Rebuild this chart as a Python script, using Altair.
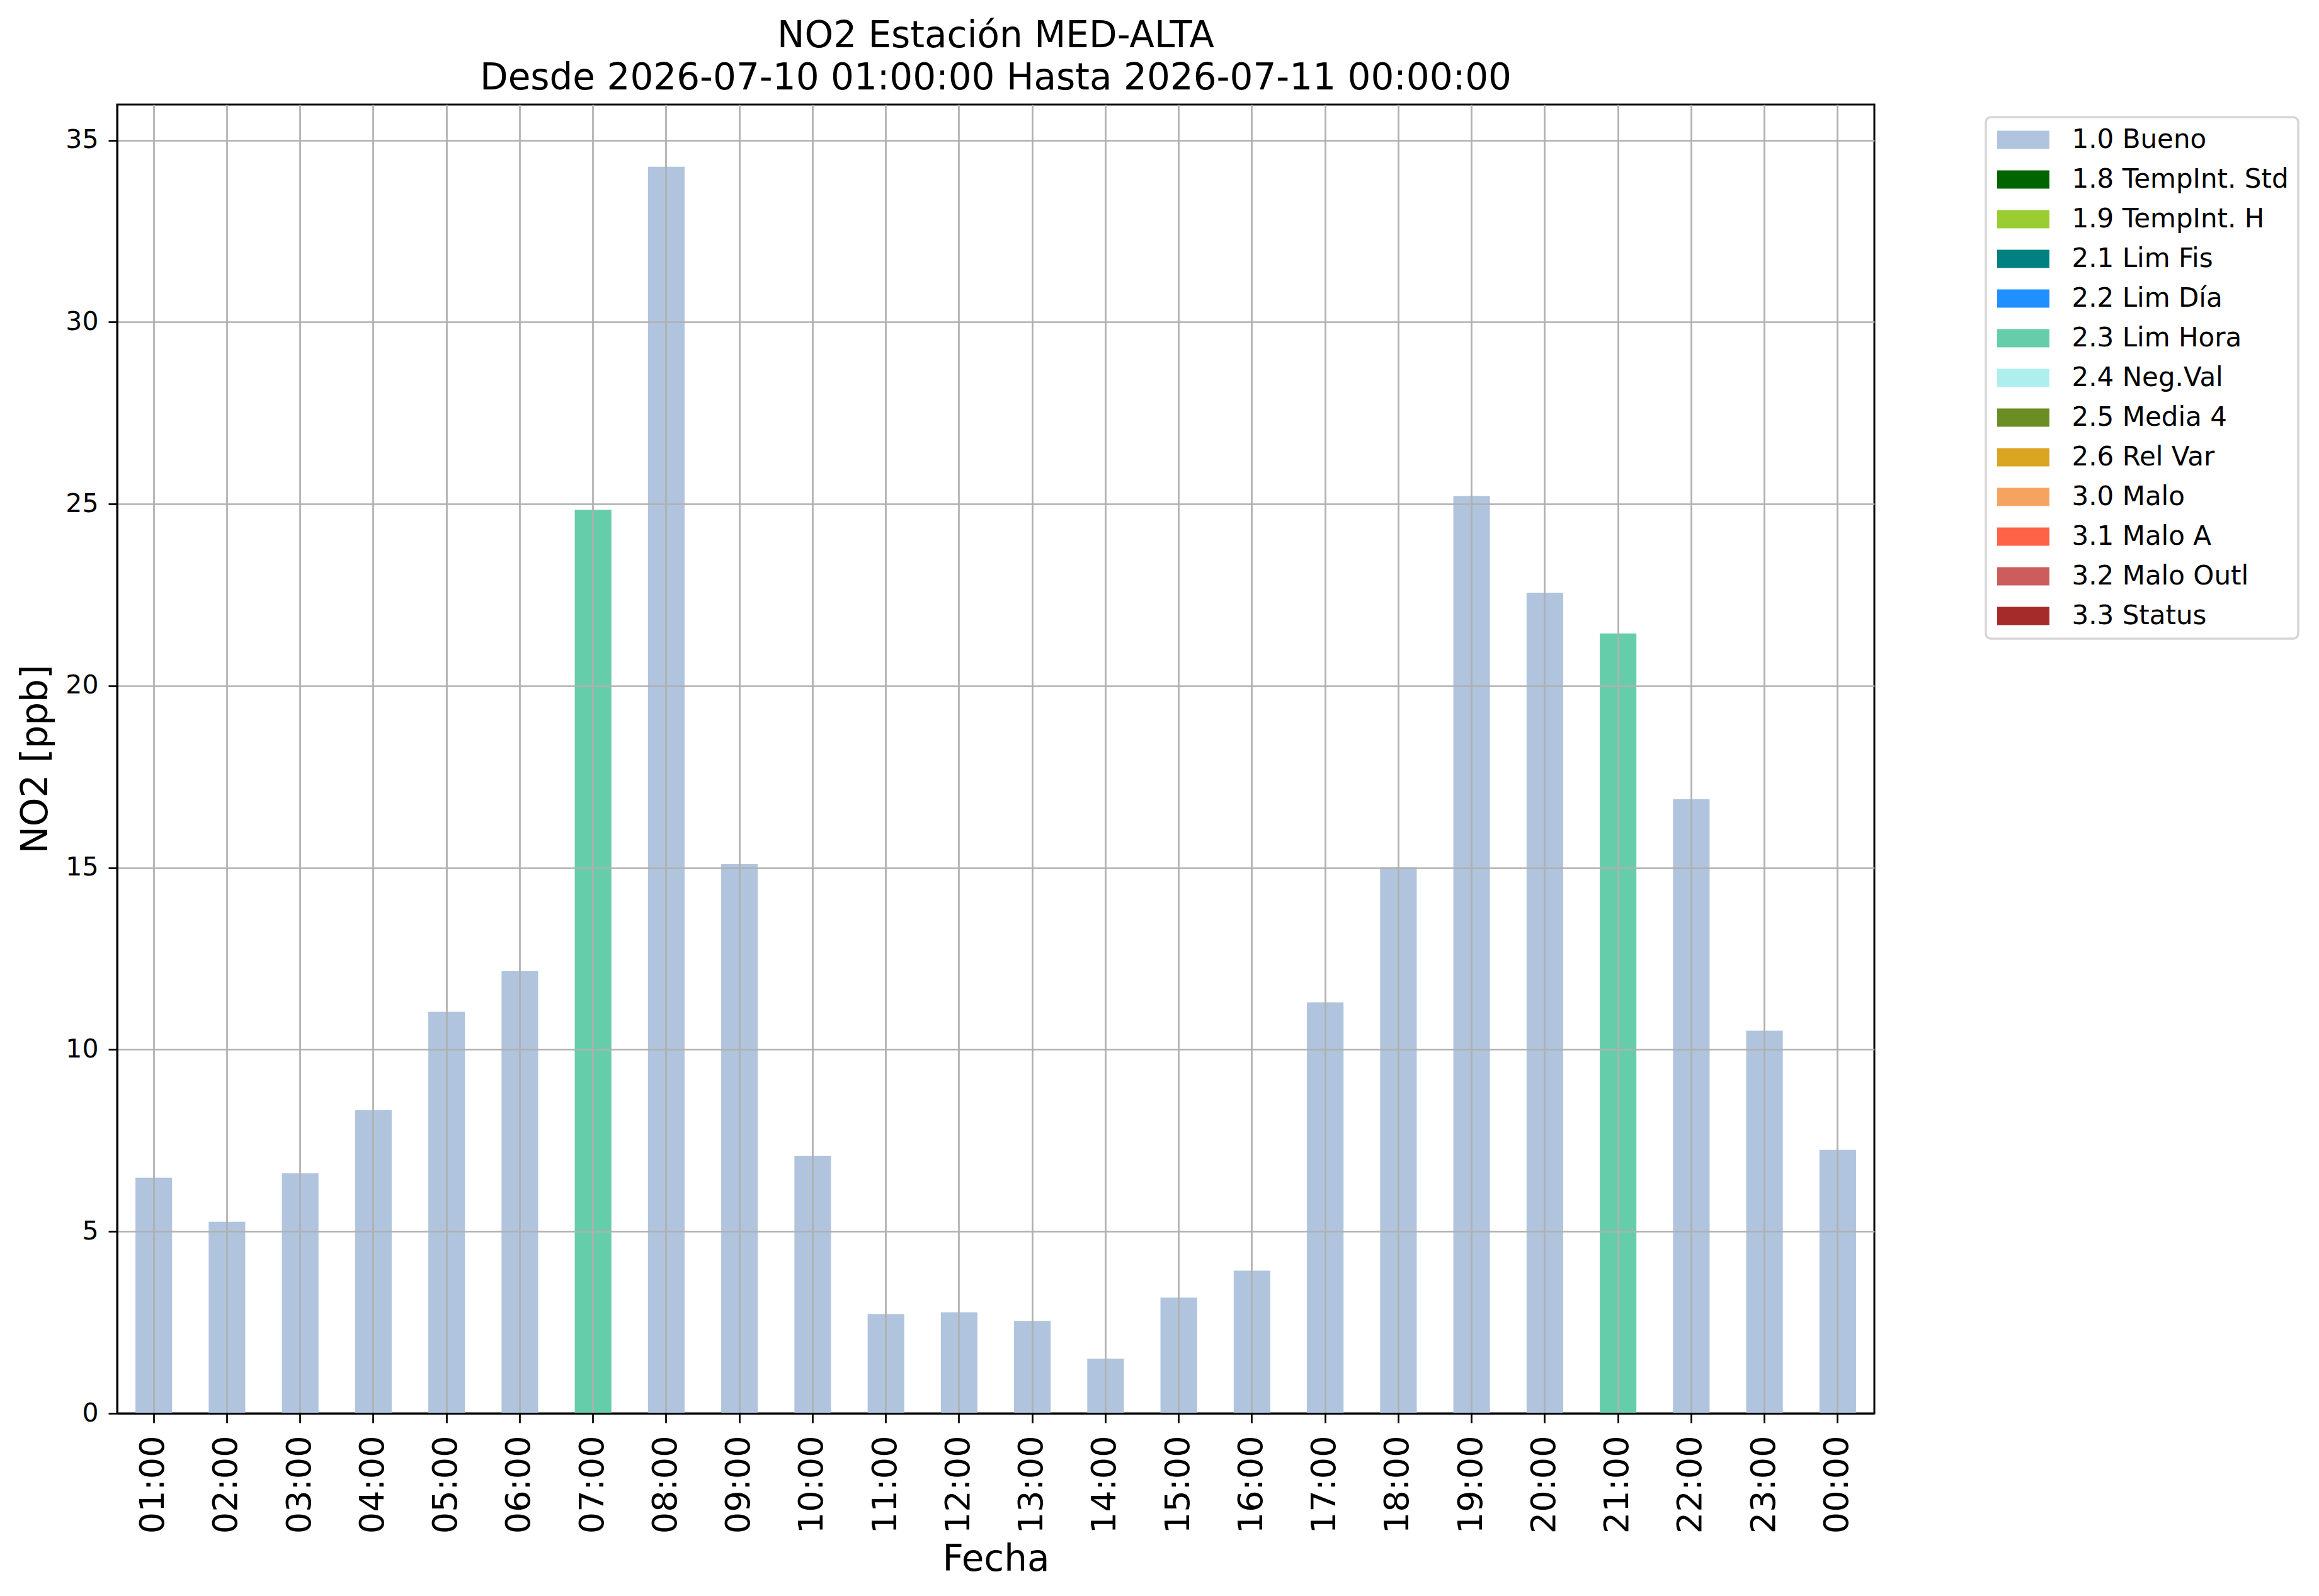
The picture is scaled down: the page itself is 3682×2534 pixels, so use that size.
import altair as alt
import pandas as pd

# ---- data ----
hours = ["01:00", "02:00", "03:00", "04:00", "05:00", "06:00", "07:00", "08:00",
         "09:00", "10:00", "11:00", "12:00", "13:00", "14:00", "15:00", "16:00",
         "17:00", "18:00", "19:00", "20:00", "21:00", "22:00", "23:00", "00:00"]
values = [6.48, 5.27, 6.60, 8.34, 11.04, 12.16, 24.84, 34.27,
          15.10, 7.08, 2.73, 2.78, 2.54, 1.50, 3.18, 3.92,
          11.30, 15.01, 25.22, 22.56, 21.44, 16.88, 10.52, 7.24]
flags = ["1.0 Bueno"] * 6 + ["2.3 Lim Hora"] + ["1.0 Bueno"] * 13 + ["2.3 Lim Hora"] + ["1.0 Bueno"] * 3

categories = ["1.0 Bueno", "1.8 TempInt. Std", "1.9 TempInt. H", "2.1 Lim Fis",
              "2.2 Lim Día", "2.3 Lim Hora", "2.4 Neg.Val", "2.5 Media 4",
              "2.6 Rel Var", "3.0 Malo", "3.1 Malo A", "3.2 Malo Outl", "3.3 Status"]
colors = ["#B0C4DE", "#006400", "#9ACD32", "#008080", "#1E90FF", "#66CDAA",
          "#AFEEEE", "#6B8E23", "#DAA520", "#F4A460", "#FF6347", "#CD5C5C", "#A52A2A"]

y_ticks = [0, 5, 10, 15, 20, 25, 30, 35]
y_max = 35.98

title_lines = ["NO2 Estación MED-ALTA", "Desde 2026-07-10 01:00:00 Hasta 2026-07-11 00:00:00"]

df = pd.DataFrame({"Fecha": hours, "NO2": values, "Flag": flags})

FONT = "DejaVu Sans"
W, H = 2790, 2078

chart = alt.Chart(df).mark_bar(opacity=1).encode(
    x=alt.X(
        "Fecha:N",
        sort=hours,
        scale=alt.Scale(paddingInner=0.5, paddingOuter=0.25),
        axis=alt.Axis(
            title="Fecha", labelAngle=270, labelAlign="right", labelBaseline="middle",
            labelFontSize=54, labelFont=FONT, labelColor="black", labelPadding=20,
            labelOverlap=False, tickSize=15, tickWidth=2.7, tickColor="black",
            domainColor="black", domainWidth=3,
            grid=True, gridColor="#b0b0b0", gridWidth=2.7, bandPosition=0.5,
            titleFontSize=58, titleFont=FONT, titleFontWeight="normal", titleColor="black",
            titleX=W / 2, titleY=249, titleBaseline="alphabetic", titleAlign="center",
            zindex=1,
        ),
    ),
    y=alt.Y(
        "NO2:Q",
        scale=alt.Scale(domain=[0, y_max], nice=False, zero=True),
        axis=alt.Axis(
            title="NO2 [ppb]", values=y_ticks, format="d",
            labelFontSize=41, labelFont=FONT, labelColor="black", labelPadding=16,
            tickSize=14, tickWidth=2.7, tickColor="black",
            domainColor="black", domainWidth=3,
            grid=True, gridColor="#b0b0b0", gridWidth=2.7,
            titleFontSize=58, titleFont=FONT, titleFontWeight="normal", titleColor="black",
            titleAngle=270, titleX=-112, titleY=H / 2, titleBaseline="alphabetic",
            titleAlign="center", zindex=1,
        ),
    ),
    color=alt.Color(
        "Flag:N",
        scale=alt.Scale(domain=categories, range=colors),
        legend=alt.Legend(
            title=None, orient="none", legendX=2967, legendY=20,
            symbolType="M-1.976,-0.69H1.976V0.69H-1.976Z", symbolSize=1764,
            symbolStrokeWidth=0, symbolOpacity=1,
            labelFontSize=42, labelFont=FONT, labelColor="black", labelOffset=56,
            labelLimit=0, rowPadding=21, padding=15, symbolOffset=23.5,
            strokeColor="#d6d6d6", cornerRadius=8, fillColor="white",
        ),
    ),
).properties(
    width=W,
    height=H,
    padding={"left": 178, "top": 158, "right": 698, "bottom": 282},
    autosize=alt.AutoSizeParams(type="none"),
    title=alt.TitleParams(
        text=title_lines, fontSize=58, font=FONT, fontWeight="normal", color="black",
        anchor="middle", frame="group", lineHeight=67, offset=12,
    ),
).configure_view(
    stroke="black", strokeWidth=3,
).configure_legend(
    strokeWidth=3.5,
)

chart.save("out.html", embed_options={"renderer": "svg", "actions": False})
